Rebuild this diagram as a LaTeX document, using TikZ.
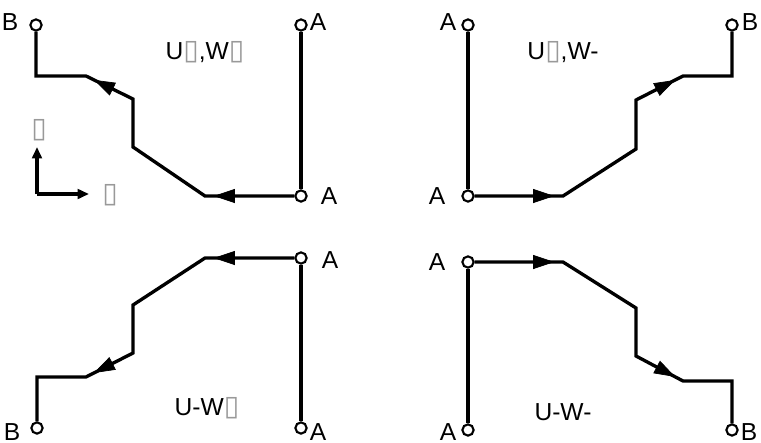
\documentclass[tikz,border=0pt]{standalone}
\usepackage{fontspec}
\setmainfont{Liberation Sans}
\newfontfamily\symfont{DejaVu Sans}
\usetikzlibrary{arrows.meta,decorations.markings}
\newcommand{\gbox}{{\symfont\fontsize{16}{16}\selectfont\textcolor{gray!80}{▯}}}

\begin{document}
\begin{tikzpicture}[x=0.02cm,y=-0.02cm,>=Stealth,
  wire/.style={line width=1.9pt},
  term/.style={circle,draw,line width=1.2pt,fill=white,inner sep=0pt,minimum size=6.4pt},
  lbl/.style={font=\fontsize{14}{16}\selectfont,inner sep=0pt},
  flow/.style={postaction={decorate},decoration={markings,
    mark=at position -5pt with {\arrow{Triangle[length=12pt,width=8pt]}}}}]
  \useasboundingbox (0,0) rectangle (761,443);

  % U+ W+
  \node[term] (tlB) at (36,25) {};
  \node[term] (tlAt) at (301,25) {};
  \node[term] (tlA) at (301,196) {};
  \coordinate (tl1) at (205,196);
  \coordinate (tl2) at (133,147);
  \coordinate (tl3) at (133,99);
  \coordinate (tl4) at (86,76);
  \coordinate (tl5) at (36,76);
  \draw[wire] (tlAt) -- (tlA);
  \draw[wire] (tlA) -- (tl1) -- (tl2) -- (tl3) -- (tl4) -- (tl5) -- (tlB);
  \path[flow] (tlA) -- (tl1); \path[flow] (tl3) -- (tl4);
  \node[lbl] at (10,22) {B};
  \node[lbl] at (318,22) {A};
  \node[lbl] at (329,196) {A};
  \node[lbl] (tltxt) at (205,52) {U\gbox,W\gbox};

  % axes
  \coordinate (o) at (37,194);
  \coordinate (yend) at (37,147);
  \coordinate (xend) at (89,194);
  \draw[wire,-{Triangle[length=6.5pt,width=5.5pt]}] (o) -- (yend);
  \draw[wire,-{Triangle[length=6.5pt,width=5.5pt]}] (o) -- (xend);
  \node[lbl] (ylab) at (39,130) {\gbox};
  \node[lbl] (xlab) at (110,195) {\gbox};

  % U+ W-
  \node[term] (trAt) at (468,25) {};
  \node[term] (trA) at (468,196) {};
  \node[term] (trB) at (732,25) {};
  \coordinate (tr1) at (563,196);
  \coordinate (tr2) at (636,149);
  \coordinate (tr3) at (636,100);
  \coordinate (tr4) at (683,76);
  \coordinate (tr5) at (732,76);
  \draw[wire] (trAt) -- (trA);
  \draw[wire] (trA) -- (tr1) -- (tr2) -- (tr3) -- (tr4) -- (tr5) -- (trB);
  \path[flow] (trA) -- (tr1); \path[flow] (tr3) -- (tr4);
  \node[lbl] at (448,22) {A};
  \node[lbl] at (437,196) {A};
  \node[lbl] at (750,22) {B};
  \node[lbl] (trtxt) at (563,52) {U\gbox,W-};

  % U- W+
  \node[term] (blA) at (301,258) {};
  \node[term] (blAb) at (301,428) {};
  \node[term] (blB) at (37,428) {};
  \coordinate (bl1) at (205,258);
  \coordinate (bl2) at (133,305);
  \coordinate (bl3) at (133,353);
  \coordinate (bl4) at (86,377);
  \coordinate (bl5) at (37,377);
  \draw[wire] (blA) -- (blAb);
  \draw[wire] (blA) -- (bl1) -- (bl2) -- (bl3) -- (bl4) -- (bl5) -- (blB);
  \path[flow] (blA) -- (bl1); \path[flow] (bl3) -- (bl4);
  \node[lbl] at (330,260) {A};
  \node[lbl] at (318,432) {A};
  \node[lbl] at (12,432) {B};
  \node[lbl] (bltxt) at (207,408) {U-W\gbox};

  % U- W-
  \node[term] (brA) at (468,262) {};
  \node[term] (brAb) at (468,430) {};
  \node[term] (brB) at (732,430) {};
  \coordinate (br1) at (563,262);
  \coordinate (br2) at (636,308);
  \coordinate (br3) at (636,356);
  \coordinate (br4) at (683,381);
  \coordinate (br5) at (732,381);
  \draw[wire] (brA) -- (brAb);
  \draw[wire] (brA) -- (br1) -- (br2) -- (br3) -- (br4) -- (br5) -- (brB);
  \path[flow] (brA) -- (br1); \path[flow] (br3) -- (br4);
  \node[lbl] at (437,262) {A};
  \node[lbl] at (448,432) {A};
  \node[lbl] at (749,432) {B};
  \node[lbl] (brtxt) at (563,412) {U-W-};
\end{tikzpicture}
\end{document}
